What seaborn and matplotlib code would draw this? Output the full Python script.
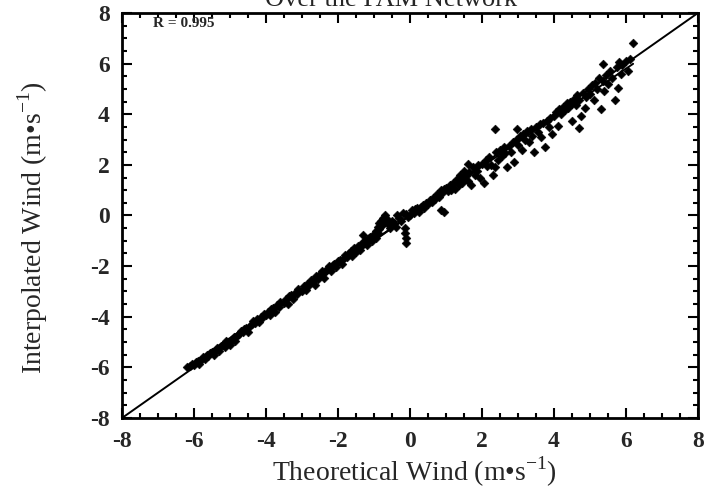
# Interpolated vs theoretical wind over the PAM network

import numpy as np
import pandas as pd
import seaborn as sns
import matplotlib.pyplot as plt
from matplotlib.ticker import MultipleLocator

sns.set_theme(style='ticks')
plt.rcParams['font.family'] = ['Liberation Serif', 'DejaVu Serif']
plt.rcParams['mathtext.fontset'] = 'custom'
plt.rcParams['mathtext.rm'] = 'Liberation Serif'
plt.rcParams['axes.unicode_minus'] = False

theoretical = [
    -6.2, -6.1, -6.05, -6.0, -5.95, -5.9, -5.85, -5.8, -5.75, -5.7, -5.65, -5.6, -5.55, -5.5, -5.45,
    -5.4, -5.35, -5.3, -5.25, -5.2, -5.15, -5.1, -5.05, -5.0, -4.95, -4.9, -4.85, -4.8, -4.75, -4.7,
    -4.65, -4.6, -4.55, -4.5, -4.45, -4.4, -4.35, -4.3, -4.25, -4.2, -4.15, -4.1, -4.05, -4.0,
    -3.95, -3.9, -3.85, -3.8, -3.75, -3.7, -3.65, -3.6, -3.5, -3.45, -3.4, -3.35, -3.3, -3.25,
    -3.2, -3.15, -3.1, -3.0, -2.95, -2.9, -2.85, -2.8, -2.75, -2.7, -2.65, -2.6, -2.55, -2.5,
    -2.45, -2.4, -2.35, -2.3, -2.25, -2.2, -2.15, -2.1, -2.05, -2.0, -1.95, -1.9, -1.85, -1.8,
    -1.75, -1.7, -1.65, -1.6, -1.55, -1.5,
    -1.45, -1.4, -1.35, -1.3, -1.3, -1.25, -1.2, -1.15, -1.1, -1.05, -1.0, -0.95, -0.95, -0.9,
    -0.9, -0.85, -0.85, -0.8, -0.8, -0.75, -0.75, -0.7, -0.7, -0.65, -0.6, -0.55, -0.5, -0.45,
    -0.4, -0.35, -0.3, -0.25, -0.2, -0.15, -0.15, -0.12, -0.1, -0.1, -0.05, 0.0,
    0.05, 0.1, 0.15, 0.2, 0.25, 0.3, 0.35, 0.4, 0.45, 0.5, 0.55, 0.6, 0.65, 0.7, 0.75, 0.8, 0.85,
    0.85, 0.95, 0.9, 0.95, 1.0, 1.05, 1.1, 1.15, 1.2, 1.25, 1.3, 1.35, 1.4, 1.45, 1.5, 1.5, 1.55,
    1.6, 1.6, 1.65, 1.7, 1.75, 1.8, 1.85, 1.9, 1.95, 2.0,
    2.05, 2.1, 2.15, 2.2, 2.25, 2.3, 2.35, 2.36, 2.4, 2.45, 2.5, 2.55, 2.6, 2.65, 2.7, 2.75, 2.8,
    2.85, 2.9, 2.95, 2.97, 3.0, 3.05, 3.1, 3.15, 3.2, 3.25, 3.3, 3.35, 3.4, 3.45, 3.5, 3.55, 3.6,
    3.65, 3.7, 3.75, 3.8, 3.85, 3.9, 3.95, 4.0,
    4.05, 4.1, 4.15, 4.2, 4.25, 4.3, 4.35, 4.4, 4.45, 4.5, 4.5, 4.55, 4.6, 4.65, 4.7, 4.7, 4.75,
    4.8, 4.85, 4.9, 4.95, 5.0, 5.05, 5.1, 5.15, 5.2, 5.25, 5.3, 5.35, 5.35, 5.4, 5.45, 5.5, 5.55,
    5.6, 5.7, 5.75, 5.78, 5.8, 5.85, 5.9, 6.0, 6.05, 6.1, 6.2,
]
interpolated = [
    -6.0, -5.95, -5.85, -5.9, -5.8, -5.75, -5.85, -5.7, -5.6, -5.65, -5.5, -5.55, -5.45, -5.4, -5.5,
    -5.3, -5.25, -5.35, -5.15, -5.1, -5.2, -4.95, -5.0, -5.1, -4.9, -4.8, -4.95, -4.75, -4.7, -4.55,
    -4.6, -4.5, -4.45, -4.6, -4.35, -4.3, -4.15, -4.25, -4.1, -4.2, -4.0, -4.05, -3.9, -3.95,
    -3.8, -3.95, -3.7, -3.65, -3.8, -3.55, -3.6, -3.4, -3.45, -3.3, -3.5, -3.2, -3.15, -3.3,
    -3.05, -3.1, -2.9, -3.0, -2.8, -2.95, -2.7, -2.75, -2.55, -2.6, -2.75, -2.4, -2.5, -2.3,
    -2.2, -2.45, -2.25, -2.1, -2.0, -2.2, -1.95, -1.9, -2.05, -1.8, -1.75, -1.9, -1.7, -1.55,
    -1.65, -1.5, -1.4, -1.6, -1.3, -1.45,
    -1.2, -1.35, -1.15, -0.77, -1.05, -1.0, -1.15, -0.9, -0.85, -1.0, -0.75, -0.6, -0.9, -0.45,
    -0.7, -0.3, -0.55, -0.2, -0.4, -0.1, -0.35, -0.25, 0.0, -0.15, -0.35, -0.5, -0.2, -0.3,
    -0.45, 0.0, -0.1, -0.2, 0.1, -0.5, -0.7, -0.9, -1.1, 0.05, -0.05, 0.0,
    0.2, 0.1, 0.25, 0.3, 0.15, 0.35, 0.4, 0.3, 0.5, 0.45, 0.6, 0.55, 0.7, 0.65, 0.85, 0.75, 1.0,
    0.2, 0.15, 0.9, 1.05, 1.1, 0.95, 1.2, 1.0, 1.3, 1.05, 1.45, 1.2, 1.6, 1.3, 1.75, 1.45, 1.55,
    2.05, 1.35, 1.7, 1.2, 1.9, 1.6, 1.75, 2.0, 1.5, 2.05,
    1.3, 2.2, 1.95, 2.3, 2.0, 1.6, 1.9, 3.4, 2.5, 2.2, 2.6, 2.35, 2.7, 2.45, 1.9, 2.75, 2.5,
    2.9, 2.1, 3.0, 3.4, 2.8, 3.15, 2.6, 3.2, 3.0, 3.35, 2.9, 3.4, 3.15, 2.5, 3.5, 3.3, 3.6,
    3.1, 3.65, 2.7, 3.75, 3.5, 3.85, 3.2, 3.95,
    4.1, 3.55, 4.2, 4.0, 4.3, 4.15, 4.45, 4.25, 4.5, 3.75, 4.4, 4.6, 4.35, 4.75, 3.45, 4.55, 3.95,
    4.85, 4.25, 4.7, 5.0, 4.8, 5.15, 4.55, 5.25, 5.0, 5.45, 4.2, 5.3, 6.0, 4.9, 5.55, 5.2, 5.7,
    5.45, 4.55, 5.85, 5.05, 6.05, 5.6, 5.95, 6.1, 5.7, 6.2, 6.8,
]

df = pd.DataFrame({'Theoretical': theoretical, 'Interpolated': interpolated})
r = 0.995

fig = plt.figure(figsize=(7.11, 4.92), dpi=100)
ax = fig.add_axes([0.1716, 0.1504, 0.81, 0.8232])

ax.plot([-8, 8], [-8, 8], color='black', lw=1.4)
sns.regplot(data=df, x='Theoretical', y='Interpolated', ax=ax, ci=None, scatter=False,
            truncate=True, line_kws={'color': 'black', 'lw': 1.4})
sns.scatterplot(data=df, x='Theoretical', y='Interpolated', ax=ax, marker='D', s=20,
                color='black', edgecolor='black', linewidth=0.4)

ax.set_xlim(-8, 8)
ax.set_ylim(-8, 8)
ax.xaxis.set_major_locator(MultipleLocator(2))
ax.yaxis.set_major_locator(MultipleLocator(2))
ax.xaxis.set_minor_locator(MultipleLocator(0.5))
ax.yaxis.set_minor_locator(MultipleLocator(0.5))
ax.tick_params(which='both', direction='in', top=True, right=True, color='black', width=1.5)
ax.tick_params(which='major', length=7, labelsize=17, pad=9)
ax.tick_params(which='minor', length=3.5)
for lab in ax.get_xticklabels() + ax.get_yticklabels():
    lab.set_fontweight('bold')
for sp in ax.spines.values():
    sp.set_linewidth(2)
    sp.set_color('black')

ax.set_xlabel('Theoretical Wind (m\u2022s$^{-1}$)', fontsize=20)
ax.set_ylabel('Interpolated Wind (m\u2022s$^{-1}$)', fontsize=20)
ax.xaxis.set_label_coords(0.507, -0.09)
ax.yaxis.set_label_coords(-0.125, 0.47)

ax.text(-7.15, 7.6, 'R = %.3f' % r, fontsize=11, fontweight='bold', va='center', ha='left')
fig.text(0.55, 0.988, 'Over the PAM Network', fontsize=19, ha='center', va='baseline')

plt.savefig('out.png', dpi=100)
